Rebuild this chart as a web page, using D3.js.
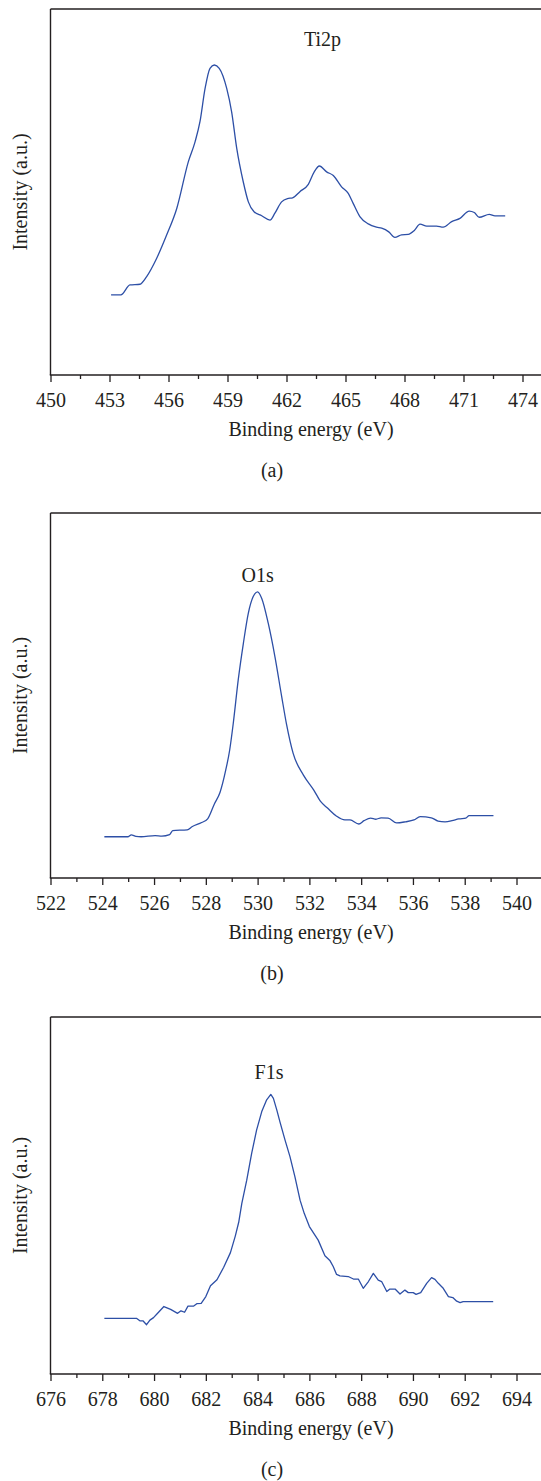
<!DOCTYPE html>
<html>
<head>
<meta charset="utf-8">
<script src="https://cdn.jsdelivr.net/npm/d3@7"></script>
<style>
  html, body { margin: 0; padding: 0; background: #fff; }
  svg { display: block; }
  text { font-family: "Liberation Serif", "DejaVu Serif", serif; fill: #231f20; }
</style>
</head>
<body>
<svg id="chart" width="541" height="1481"></svg>
<script>
// ---------- DATA ----------
// Panel (a) Ti2p
const tiEnergy = [453.08,453.58,454.04,454.55,454.89,455.40,455.91,456.42,457.01,457.35,457.60,457.86,458.11,458.33,458.58,458.96,459.21,459.47,459.80,460.06,460.35,460.74,461.16,461.41,461.75,462.05,462.31,462.68,463.11,463.41,463.67,464.04,464.38,464.80,465.14,465.39,465.73,466.16,466.58,466.84,467.20,467.51,467.85,468.19,468.50,468.79,469.13,469.63,469.97,470.40,470.82,471.29,471.55,471.80,472.31,472.60,473.12];
const tiIntensity = [21.9,21.9,24.6,24.8,26.9,31.9,38.3,45.5,58.3,63.7,69.2,78.3,83.8,84.7,83.8,78.3,71.9,61.9,52.8,47.3,44.6,43.5,42.3,44.2,47.3,48.2,48.4,50.1,52.1,55.5,57.1,55.5,54.5,51.4,49.6,46.9,43.3,41.3,40.4,40.1,39.1,37.6,38.3,38.4,39.5,41.2,40.7,40.7,40.4,41.9,42.8,44.8,44.4,43.1,43.9,43.5,43.5];
const tiTicks = [450,453,456,459,462,465,468,471,474];
const tiMinor = [451.5,454.5,457.5,460.5,463.5,466.5,469.5,472.5];

// Panel (b) O1s
const oEnergy = [524.08,525.00,525.12,525.30,525.50,526.04,526.30,526.60,526.72,527.28,527.48,527.84,528.07,528.33,528.55,528.77,528.92,529.06,529.25,529.45,529.64,529.83,530.00,530.16,530.41,530.67,530.93,531.12,531.37,531.77,532.17,532.44,532.71,533.04,533.37,533.57,533.91,534.11,534.37,534.57,534.77,535.04,535.37,535.71,536.04,536.28,536.71,536.97,537.24,537.51,537.77,538.04,538.17,539.11];
const oIntensity = [11.3,11.3,11.8,11.4,11.3,11.6,11.5,11.9,13.0,13.2,14.1,15.2,16.2,20.3,23.5,29.6,35.0,42.4,54.2,64.3,72.5,77.1,78.4,76.6,69.8,60.6,49.7,42.0,34.2,28.2,24.1,20.9,19.1,17.0,15.9,15.9,14.8,15.7,16.4,16.1,16.5,16.4,15.1,15.4,15.9,16.8,16.5,15.6,15.4,15.7,16.2,16.4,17.1,17.1];
const oTicks = [522,524,526,528,530,532,534,536,538,540];
const oMinor = [523,525,527,529,531,533,535,537,539];

// Panel (c) F1s
const fEnergy = [678.08,679.32,679.45,679.57,679.71,679.84,679.98,680.11,680.38,680.64,680.91,681.04,681.18,681.31,681.52,681.65,681.82,682.00,682.18,682.43,682.69,682.95,683.14,683.27,683.39,683.58,683.77,683.96,684.16,684.35,684.51,684.61,684.74,684.86,685.06,685.25,685.44,685.64,685.80,686.00,686.34,686.60,686.80,686.92,687.05,687.18,687.50,687.70,687.89,688.08,688.28,688.47,688.66,688.79,688.99,689.11,689.31,689.50,689.69,689.82,690.01,690.12,690.30,690.53,690.72,690.85,690.98,691.17,691.37,691.54,691.69,691.82,691.94,693.10];
const fIntensity = [15.6,15.6,14.9,14.9,13.8,15.1,15.8,16.8,18.9,18.1,17.0,17.7,17.3,19.0,19.0,19.7,19.8,21.7,24.7,26.4,29.9,34.0,38.7,42.5,47.8,54.3,61.8,68.3,73.5,76.8,78.3,77.2,74.0,70.7,65.5,60.9,55.3,48.7,45.0,41.3,37.5,33.1,31.7,30.1,27.9,27.5,27.3,26.6,26.6,24.0,25.9,28.2,26.3,25.9,23.1,23.8,23.8,22.4,23.5,22.8,22.8,22.3,22.8,25.4,27.0,26.5,25.4,24.0,21.7,21.4,20.4,20.0,20.3,20.3];
const fTicks = [676,678,680,682,684,686,688,690,692,694];
const fMinor = [677,679,681,683,685,687,689,691,693];

const peakLabels = ["Ti2p", "O1s", "F1s"];
const captions = ["(a)", "(b)", "(c)"];
const xTitle = "Binding energy (eV)";
const yTitle = "Intensity (a.u.)";

// ---------- LAYOUT ----------
const W = 541;
const axisLeft = 50.5;
const panels = [
  { energy: tiEnergy, intensity: tiIntensity, ticks: tiTicks, minor: tiMinor,
    top: 9, bottom: 375, tickEnd: 522.5, label: peakLabels[0], labelPos: [463.83, 89.9],
    caption: captions[0], curve: d3.curveMonotoneX },
  { energy: oEnergy, intensity: oIntensity, ticks: oTicks, minor: oMinor,
    top: 513, bottom: 878, tickEnd: 516.5, label: peakLabels[1], labelPos: [530.0, 81.2],
    caption: captions[1], curve: d3.curveMonotoneX },
  { energy: fEnergy, intensity: fIntensity, ticks: fTicks, minor: fMinor,
    top: 1017, bottom: 1374, tickEnd: 516.5, label: peakLabels[2], labelPos: [684.44, 82.6],
    caption: captions[2], curve: d3.curveLinear }
];

const svg = d3.select("#chart");
const fs = 20;
const lineColor = "#2d4fa6";

panels.forEach(p => {
  const g = svg.append("g");
  const x = d3.scaleLinear()
    .domain([p.ticks[0], p.ticks[p.ticks.length - 1]])
    .range([axisLeft, p.tickEnd]);
  const y = d3.scaleLinear().domain([0, 100]).range([p.bottom, p.top]);

  // frame: top and left, x axis line
  g.append("line").attr("x1", axisLeft).attr("x2", W).attr("y1", p.top).attr("y2", p.top)
    .attr("stroke", "#231f20").attr("stroke-width", 1.4);
  g.append("line").attr("x1", axisLeft).attr("x2", axisLeft).attr("y1", p.top).attr("y2", p.bottom)
    .attr("stroke", "#231f20").attr("stroke-width", 1.4);
  g.append("line").attr("x1", axisLeft - 0.7).attr("x2", W).attr("y1", p.bottom).attr("y2", p.bottom)
    .attr("stroke", "#231f20").attr("stroke-width", 1.4);

  // major ticks + labels
  const ax = g.append("g").attr("transform", `translate(0,${p.bottom})`)
    .call(d3.axisBottom(x).tickValues(p.ticks).tickSize(7).tickFormat(d3.format("d")));
  ax.select(".domain").remove();
  ax.selectAll(".tick line").attr("stroke", "#231f20").attr("stroke-width", 1.3);
  ax.selectAll(".tick text").attr("y", 31.5).attr("dy", 0)
    .style("font-family", '"Liberation Serif", serif').style("font-size", fs + "px").attr("fill", "#231f20");

  // minor ticks
  const axm = g.append("g").attr("transform", `translate(0,${p.bottom})`)
    .call(d3.axisBottom(x).tickValues(p.minor).tickSize(4).tickFormat(""));
  axm.select(".domain").remove();
  axm.selectAll(".tick line").attr("stroke", "#231f20").attr("stroke-width", 1.3);

  // curve
  const line = d3.line()
    .x((d, i) => x(p.energy[i]))
    .y((d, i) => y(p.intensity[i]))
    .curve(p.curve);
  g.append("path").datum(p.energy)
    .attr("d", line)
    .attr("fill", "none")
    .attr("stroke", lineColor)
    .attr("stroke-width", 1.3)
    .attr("stroke-linejoin", "round");

  // peak label
  g.append("text").attr("x", x(p.labelPos[0])).attr("y", y(p.labelPos[1]))
    .attr("text-anchor", "middle").style("font-size", fs + "px").text(p.label);

  // axis titles
  g.append("text").attr("x", 311).attr("y", p.bottom + 61)
    .attr("text-anchor", "middle").style("font-size", fs + "px").text(xTitle);
  g.append("text")
    .attr("transform", `translate(27,${(p.top + p.bottom) / 2}) rotate(-90)`)
    .attr("text-anchor", "middle").style("font-size", fs + "px").text(yTitle);

  // caption
  g.append("text").attr("x", 272).attr("y", p.bottom + 102)
    .attr("text-anchor", "middle").style("font-size", fs + "px").text(p.caption);
});
</script>
</body>
</html>
